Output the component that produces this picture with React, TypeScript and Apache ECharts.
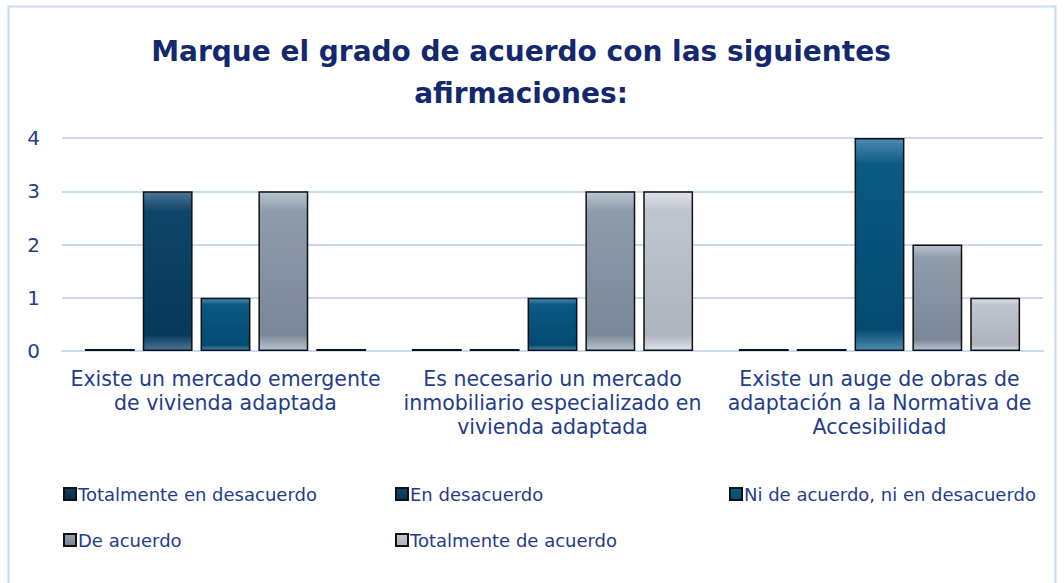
import React, { useEffect, useRef } from "react";
import * as echarts from "echarts";

const categories = [
  "Existe un mercado emergente\nde vivienda adaptada",
  "Es necesario un mercado\ninmobiliario especializado en\nvivienda adaptada",
  "Existe un auge de obras de\nadaptación a la Normativa de\nAccesibilidad",
];
const seriesNames = [
  "Totalmente en desacuerdo",
  "En desacuerdo",
  "Ni de acuerdo, ni en desacuerdo",
  "De acuerdo",
  "Totalmente de acuerdo",
];
const totalmenteDesacuerdo = [0, 0, 0];
const enDesacuerdo = [3, 0, 0];
const niDeAcuerdo = [1, 1, 4];
const deAcuerdo = [3, 3, 2];
const totalmenteAcuerdo = [0, 3, 1];
const yTicks = [0, 1, 2, 3, 4];

const palettes = [
  ["#4a6f8c", "#123d5c", "#0a2f4b"],
  ["#4d7596", "#0f456a", "#06395a"],
  ["#4f8ab0", "#0a5a84", "#034a70"],
  ["#b9c5d2", "#8e9cac", "#7a8798"],
  ["#dde2e8", "#bfc5cc", "#aeb4bc"],
];

function grad(p: string[]) {
  return new echarts.graphic.LinearGradient(0, 0, 0, 1, [
    { offset: 0, color: p[0] },
    { offset: 0.12, color: p[1] },
    { offset: 0.9, color: p[2] },
    { offset: 1, color: p[0] },
  ]);
}

export default function App() {
  const ref = useRef<HTMLDivElement>(null);
  useEffect(() => {
    if (!ref.current) return;
    const chart = echarts.init(ref.current, undefined, { renderer: "svg" });
    const data = [totalmenteDesacuerdo, enDesacuerdo, niDeAcuerdo, deAcuerdo, totalmenteAcuerdo];
    const navy = "#243c8c";
    const font = "'DejaVu Sans', sans-serif";
    const legendPos = [
      { left: 63, top: 485 },
      { left: 395, top: 485 },
      { left: 729, top: 485 },
      { left: 63, top: 531 },
      { left: 395, top: 531 },
    ];
    chart.setOption({
      animation: false,
      backgroundColor: "#ffffff",
      title: {
        text: "Marque el grado de acuerdo con las siguientes\nafirmaciones:",
        left: 516,
        textAlign: "center",
        top: 25,
        textStyle: {
          color: "#14286e",
          fontSize: 28,
          fontWeight: "bold",
          fontFamily: font,
          lineHeight: 42,
        },
      },
      graphic: [
        {
          type: "rect",
          shape: { x: 8.5, y: 6.5, width: 1047, height: 600 },
          style: { fill: "none", stroke: "#c9daf5", lineWidth: 2 },
          silent: true,
        },
      ],
      legend: seriesNames.map((n, i) => ({
        data: [n],
        left: legendPos[i].left,
        top: legendPos[i].top,
        padding: 0,
        itemWidth: 12,
        itemHeight: 12,
        itemGap: 2,
        textStyle: { color: navy, fontSize: 18, fontFamily: font, padding: [0, 0, 0, -3] },
        icon: "rect",
      })),
      grid: { left: 62, right: 21, top: 138, bottom: 232, containLabel: false },
      xAxis: {
        type: "category",
        data: categories,
        axisTick: { show: false },
        axisLine: { lineStyle: { color: "#c9daf5", width: 2 } },
        axisLabel: {
          color: navy,
          fontSize: 20.5,
          fontFamily: font,
          lineHeight: 24,
          margin: 16,
          interval: 0,
        },
      },
      yAxis: {
        type: "value",
        min: 0,
        max: 4,
        interval: 1,
        axisLine: { show: false },
        axisTick: { show: false },
        splitLine: { lineStyle: { color: "#c9daf5", width: 2 } },
        axisLabel: {
          color: navy,
          fontSize: 20,
          fontFamily: font,
          margin: 22,
          formatter: (v: number) => (yTicks.includes(v) ? String(v) : ""),
        },
      },
      series: seriesNames.map((n, i) => ({
        name: n,
        type: "bar",
        data: data[i],
        barGap: "16%",
        barCategoryGap: "14%",
        barMinHeight: 2,
        itemStyle: {
          color: grad(palettes[i]),
          borderColor: "#111111",
          borderWidth: 1.5,
        },
      })),
    });
    return () => chart.dispose();
  }, []);
  return (
    <div
      ref={ref}
      style={{ position: "fixed", left: 0, top: 0, width: 1064, height: 583 }}
    />
  );
}
